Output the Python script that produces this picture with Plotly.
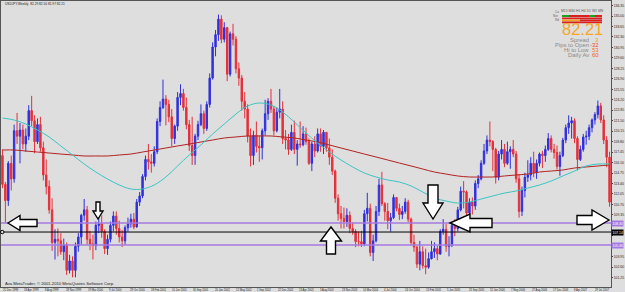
import plotly.graph_objects as go

# ---------------- data (USDJPY, half-month bars) ----------------
first_open = 117.0
closes = [113.3,
    111.2, 116.0, 114.0, 120.2, 119.5, 120.3, 118.5, 119.5, 122.8, 121.5, 118.8, 121.0, 118.0, 114.5, 113.0, 110.0, 105.8, 106.2, 106.0, 104.6, 105.5, 102.2, 103.4, 102.2,
    105.3, 106.5, 109.3, 110.0, 106.2, 105.6, 105.4, 108.0, 108.2, 107.2, 105.0, 106.2, 108.0, 109.2, 107.6, 106.5, 106.0, 107.7, 108.2, 108.8, 107.8, 111.0, 111.8, 114.3,
    116.5, 116.2, 116.0, 117.5, 121.4, 123.2, 124.3, 123.6, 122.0, 119.2, 120.8, 124.5, 125.0, 123.2, 121.0, 118.3, 117.0, 119.5, 121.0, 122.4, 120.5, 123.6, 127.0, 131.0,
    132.6, 134.6, 132.0, 133.5, 127.5, 132.7, 132.0, 128.2, 127.0, 124.0, 123.0, 119.5, 117.0, 119.6, 118.2, 118.0, 120.2, 122.4, 124.0, 123.0, 120.2, 122.6, 123.0, 119.2,
    119.0, 117.8, 120.0, 117.8, 118.5, 118.4, 119.8, 118.8, 116.0, 118.5, 117.6, 119.8, 118.2, 120.0, 118.0, 116.8, 115.0, 111.5, 109.5, 108.9, 108.5, 109.3, 107.6, 107.2,
    105.9, 105.9, 105.6, 109.5, 110.2, 104.5, 106.0, 109.8, 113.2, 110.8, 109.8, 108.6, 109.0, 111.6, 110.2, 109.4, 109.8, 111.0, 108.8, 105.8, 105.2, 103.0, 104.6, 102.8,
    102.6, 103.7, 104.6, 105.0, 104.3, 107.2, 107.5, 105.3, 105.5, 108.0, 107.6, 110.0, 112.4, 112.3, 109.6, 111.0, 110.5, 113.4, 114.0, 116.0, 117.6, 119.0, 118.8, 117.8,
    114.2, 117.2, 117.8, 116.0, 117.5, 117.8, 117.2, 114.0, 109.8, 112.5, 114.2, 114.5, 116.0, 114.8, 116.0, 117.2, 117.0, 117.8, 119.2, 117.8, 117.4, 115.6, 117.0, 119.0,
    120.6, 121.2, 121.5, 119.2, 116.5, 117.8, 119.4, 119.5, 120.6, 121.6, 122.3, 123.4, 121.6, 119.0, 116.8, 111.0]
highs = [117.8,
    113.6, 116.3, 117.0, 121.0, 122.5, 121.2, 121.0, 120.5, 123.5, 124.7, 122.2, 121.8, 122.0, 118.8, 116.5, 113.8, 111.5, 107.5, 107.6, 107.0, 106.3, 105.8, 104.2, 104.0,
    105.8, 107.0, 109.5, 111.4, 110.5, 107.3, 106.8, 108.5, 110.0, 109.3, 107.5, 106.8, 108.5, 109.8, 109.8, 108.6, 107.4, 108.0, 109.0, 109.5, 109.6, 111.4, 112.3, 114.6,
    117.0, 118.5, 117.2, 118.2, 121.8, 124.0, 126.8, 124.8, 124.2, 123.0, 121.0, 125.2, 126.2, 125.6, 124.5, 121.6, 122.0, 119.8, 121.5, 123.6, 122.8, 124.0, 127.6, 131.6,
    133.2, 135.2, 135.1, 134.2, 133.6, 133.0, 134.0, 132.4, 129.0, 127.4, 125.2, 123.6, 120.5, 120.2, 121.4, 119.6, 120.5, 124.2, 124.4, 125.6, 123.4, 123.2, 125.6, 124.0,
    120.3, 119.8, 121.0, 121.5, 119.0, 121.4, 120.8, 120.6, 119.2, 118.8, 119.5, 120.5, 120.5, 120.3, 120.0, 119.2, 117.8, 115.2, 112.0, 110.5, 110.3, 110.2, 109.8, 108.4,
    107.5, 107.2, 107.3, 110.0, 112.2, 110.8, 106.8, 110.5, 114.0, 114.9, 111.0, 110.9, 109.6, 112.0, 111.6, 110.8, 110.5, 111.5, 111.3, 109.0, 106.8, 105.3, 106.0, 105.3,
    105.0, 104.5, 106.0, 105.8, 105.4, 107.5, 108.8, 108.2, 106.6, 108.3, 108.8, 110.4, 113.0, 113.7, 112.5, 111.5, 111.6, 113.8, 114.5, 116.4, 118.5, 119.6, 121.4, 119.0,
    118.0, 117.6, 119.0, 118.5, 118.8, 118.2, 119.0, 117.6, 114.6, 113.0, 114.8, 116.4, 116.8, 117.5, 116.5, 117.4, 117.6, 118.3, 119.9, 119.6, 118.5, 118.3, 117.5, 119.3,
    121.0, 122.2, 122.0, 121.8, 119.5, 118.3, 119.8, 120.2, 121.0, 121.8, 122.6, 124.1, 123.8, 122.2, 119.5, 117.5]
lows = [112.8,
    108.3, 110.5, 112.5, 113.5, 118.5, 116.0, 117.8, 117.5, 119.0, 120.8, 117.3, 118.5, 117.5, 113.8, 112.0, 109.5, 104.7, 103.6, 104.0, 104.2, 103.5, 101.6, 101.8, 101.3,
    101.3, 104.6, 105.5, 108.6, 105.5, 104.8, 103.6, 104.8, 107.0, 106.4, 104.3, 104.2, 105.8, 107.2, 106.8, 105.8, 105.2, 105.5, 107.2, 107.7, 107.5, 107.7, 110.5, 111.5,
    113.8, 115.2, 114.8, 115.6, 117.2, 120.8, 123.0, 120.9, 121.3, 118.2, 118.5, 120.2, 123.5, 122.8, 120.4, 117.6, 115.8, 115.8, 119.0, 120.8, 119.8, 120.2, 123.2, 126.8,
    129.8, 131.8, 131.5, 131.6, 126.6, 127.2, 131.2, 127.6, 126.0, 122.8, 121.8, 118.7, 115.6, 115.8, 117.4, 116.2, 116.5, 119.6, 121.6, 122.5, 119.6, 120.0, 121.8, 118.5,
    117.8, 117.1, 117.6, 117.2, 115.7, 118.0, 118.2, 118.4, 115.8, 115.0, 116.8, 117.4, 117.5, 117.2, 117.5, 115.8, 114.5, 110.9, 108.6, 107.6, 107.6, 107.8, 107.0, 106.8,
    105.2, 105.3, 105.2, 105.3, 108.5, 104.0, 103.4, 105.8, 109.2, 110.5, 108.6, 107.5, 107.2, 108.8, 109.8, 108.7, 108.8, 109.5, 108.4, 105.5, 104.6, 102.5, 102.2, 102.4,
    101.7, 102.4, 103.6, 103.8, 103.5, 104.2, 106.8, 104.6, 104.0, 105.2, 106.6, 107.2, 109.8, 110.2, 109.0, 108.8, 109.4, 110.0, 112.8, 113.8, 115.8, 117.2, 118.2, 115.0,
    113.4, 113.8, 116.5, 115.5, 115.8, 115.3, 116.8, 113.5, 109.0, 109.2, 111.6, 113.6, 113.8, 114.2, 114.0, 115.6, 115.4, 116.2, 117.6, 117.4, 116.6, 115.2, 114.4, 116.8,
    118.6, 119.8, 119.2, 118.6, 115.1, 116.3, 117.5, 118.4, 119.0, 120.0, 121.0, 121.8, 121.2, 118.5, 115.5, 110.4]
opens = [first_open] + closes[:-1]   # FX bars open where the previous one closed

ma_step = 4   # moving averages read every 4th bar
teal_ma = [121.85, 121.59, 121.07, 120.30, 119.40, 118.24, 117.08, 115.91, 114.88, 113.98, 113.21, 112.69, 112.69,
           113.21, 114.24, 115.66, 117.08, 118.37, 119.78, 121.07, 122.36, 123.40, 123.78, 123.53, 122.62, 121.33,
           119.91, 118.62, 117.46, 116.43, 115.53, 114.75, 114.24, 113.85, 113.59, 113.08, 112.30, 111.53, 111.14,
           110.88, 111.01, 111.40, 111.79, 112.17, 112.43, 112.82, 113.21, 113.72, 114.37, 115.01, 115.66, 115.91, 115.91]
maroon_ma = [117.72, 117.72, 117.59, 117.46, 117.33, 117.20, 117.08, 116.95, 116.95, 116.95, 117.08, 117.20, 117.46,
             117.72, 117.98, 118.24, 118.49, 118.75, 119.01, 119.27, 119.40, 119.53, 119.53, 119.53, 119.40, 119.27,
             119.01, 118.75, 118.37, 117.98, 117.59, 117.20, 116.82, 116.43, 116.04, 115.66, 115.27, 114.88, 114.62,
             114.37, 114.24, 114.24, 114.24, 114.37, 114.50, 114.62, 114.88, 115.01, 115.14, 115.40, 115.53, 115.66, 115.79]

date_labels = ["21 Dec 1998", "18 Apr 1999", "8 Aug 1999", "28 Nov 1999", "19 Mar 2000", "9 Jul 2000",
               "29 Oct 2000", "18 Feb 2001", "10 Jun 2001", "30 Sep 2001", "20 Jan 2002", "12 May 2002",
               "1 Sep 2002", "22 Dec 2002", "13 Apr 2003", "3 Aug 2003", "23 Nov 2003", "14 Mar 2004",
               "4 Jul 2004", "24 Oct 2004", "13 Feb 2005", "5 Jun 2005", "25 Sep 2005", "15 Jan 2006",
               "7 May 2006", "27 Aug 2006", "17 Dec 2006", "8 Apr 2007", "29 Jul 2007"]
y_ticks = [136.35, 135.00, 133.65, 132.30, 130.95, 129.60, 128.25, 126.90, 125.55, 124.20, 122.85, 121.50,
           120.15, 118.80, 117.45, 116.10, 114.75, 113.40, 112.05, 110.70, 109.35, 108.00, 106.65, 105.30,
           103.95, 102.60, 101.25]
level_upper = 108.30
level_mid = 107.14
level_lower = 105.46

title_text = "USDJPY,Weekly  82.29 82.50 81.97 82.21"
copyright_text = "Ava MetaTrader, \u00a9 2001-2010 MetaQuotes Software Corp."
tf_text = "M15 M30 H1 H4 D1 W1 MN"
big_price = "82.21"
info_labels = ["Spread", "Pips to Open", "Hi to Low", "Daily Av"]
info_values = ["3", "-32", "53", "60"]

# ---------------- layout geometry ----------------
W, H = 625, 292
ML, MR, MT, MB = 1, 14, 1, 5
PW, PH = W - ML - MR, H - MT - MB
N = len(closes)
Y_RANGE = [100.05, 136.94]
BG = "#dedede"
FONT = "Liberation Sans, Arial, sans-serif"
levels = [level_upper, level_mid, level_lower]


def px(x):
    return (x - ML) / PW


def py(y):
    return 1 - (y - MT) / PH


fig = go.Figure()
fig.add_trace(go.Candlestick(
    x=list(range(N)), open=opens, high=highs, low=lows, close=closes,
    increasing=dict(line=dict(color="#3030dc", width=1), fillcolor="#3030dc"),
    decreasing=dict(line=dict(color="#e4303a", width=1), fillcolor="#e4303a"),
    whiskerwidth=0, showlegend=False, hoverinfo="skip"))
ma_x = list(range(0, N, ma_step))
fig.add_trace(go.Scatter(x=ma_x, y=maroon_ma, mode="lines", line=dict(color="#b22222", width=1, shape="spline"),
                         showlegend=False, hoverinfo="skip"))
fig.add_trace(go.Scatter(x=ma_x, y=teal_ma, mode="lines", line=dict(color="#3cc4c4", width=1, shape="spline"),
                         showlegend=False, hoverinfo="skip"))

shapes = []
for lv, col, w in [(level_upper, "#a47ae0", 1.6), (level_lower, "#a47ae0", 1.6), (level_mid, "#000000", 1)]:
    shapes.append(dict(type="line", xref="paper", yref="y", x0=0, x1=1, y0=lv, y1=lv,
                       line=dict(color=col, width=w), layer="above"))


def harrow(tip_x, tip_y, tail_x, head_len, head_half, shaft_half):
    d = 1 if tail_x > tip_x else -1
    hb = tip_x + d * head_len
    return [(tip_x, tip_y), (hb, tip_y - head_half), (hb, tip_y - shaft_half), (tail_x, tip_y - shaft_half),
            (tail_x, tip_y + shaft_half), (hb, tip_y + shaft_half), (hb, tip_y + head_half)]


def varrow(tip_x, tip_y, tail_y, head_len, head_half, shaft_half):
    d = 1 if tail_y > tip_y else -1
    hb = tip_y + d * head_len
    return [(tip_x, tip_y), (tip_x - head_half, hb), (tip_x - shaft_half, hb), (tip_x - shaft_half, tail_y),
            (tip_x + shaft_half, tail_y), (tip_x + shaft_half, hb), (tip_x + head_half, hb)]


arrows = [harrow(8, 223, 37, 12, 7.5, 3.5),
          varrow(98, 219, 202, 8, 5, 2),
          varrow(331, 227, 254, 14, 10.5, 4.5),
          varrow(433, 219, 185, 16, 10, 5),
          harrow(450, 223, 492, 20, 9, 4.5),
          harrow(609, 220, 577, 17, 10, 4.5)]
for pts in arrows:
    path = "M " + " L ".join(f"{px(x):.5f},{py(y):.5f}" for x, y in pts) + " Z"
    shapes.append(dict(type="path", xref="paper", yref="paper", path=path,
                       fillcolor="white", line=dict(color="black", width=1.4), layer="above"))

# small marker at the left end of the black line
shapes.append(dict(type="circle", xref="paper", yref="y", x0=px(0.5), x1=px(4), y0=level_mid - 0.22,
                   y1=level_mid + 0.22, line=dict(color="black", width=1), fillcolor=BG, layer="above"))

# info panel colour bars
panel = [(562, 569, 15, 17, "#22a022"), (569, 589, 15, 17, "#d82020"), (589, 595, 15, 17, "#22a022"),
         (595, 602, 15, 17, "#d82020"), (562, 602, 17.5, 19.3, "#d82020"), (562, 580, 19.5, 21.3, "#f0a020"),
         (580, 602, 19.5, 21.3, "#d82020"), (562, 602, 21.5, 23.3, "#d82020")]
for x0, x1, y0, y1, c in panel:
    shapes.append(dict(type="rect", xref="paper", yref="paper", x0=px(x0), x1=px(x1), y0=py(y1), y1=py(y0),
                       fillcolor=c, line=dict(width=0), layer="above"))

ann = []
ann.append(dict(text=title_text, xref="paper", yref="paper", x=px(3), y=py(4.5), xanchor="left", yanchor="middle",
                showarrow=False, font=dict(size=3.2, color="#222", family=FONT)))
ann.append(dict(text=copyright_text, xref="paper", yref="paper", x=px(3), y=py(283.5), xanchor="left",
                yanchor="middle", showarrow=False, font=dict(size=4.2, color="#222", family=FONT)))
for k, lab in enumerate(date_labels):
    ann.append(dict(text=lab, xref="paper", yref="paper", x=px(1 + 21.16 * k), y=py(289.5), xanchor="left",
                    yanchor="middle", showarrow=False, font=dict(size=2.7, color="#222", family=FONT)))
ann.append(dict(text=tf_text, xref="paper", yref="paper", x=px(582), y=py(11.5), xanchor="center",
                yanchor="middle", showarrow=False, font=dict(size=3.4, color="#555", family=FONT)))
for j, t in enumerate(["Ca", "Nor", "Rd"]):
    ann.append(dict(text=t, xref="paper", yref="paper", x=px(561), y=py(12 + 4 * j), xanchor="right",
                    yanchor="middle", showarrow=False, font=dict(size=3.2, color="#666", family=FONT)))
ann.append(dict(text=big_price, xref="paper", yref="paper", x=px(582), y=py(28.8), xanchor="center",
                yanchor="middle", showarrow=False, font=dict(size=16.5, color="#f5a623", family=FONT)))
val_colors = ["#f0a030", "#e8501e", "#f07a1e", "#ee5a1e"]
for j, (lab, val) in enumerate(zip(info_labels, info_values)):
    yy = py(39.6 + 5.3 * j)
    ann.append(dict(text=lab, xref="paper", yref="paper", x=px(591), y=yy, xanchor="right", yanchor="middle",
                    showarrow=False, font=dict(size=5.9, color="#8a8a8a", family=FONT)))
    ann.append(dict(text=val, xref="paper", yref="paper", x=px(601), y=yy, xanchor="right", yanchor="middle",
                    showarrow=False, font=dict(size=5.9, color=val_colors[j], family=FONT)))
for lv, bg in [(level_upper, "#a47ae0"), (level_mid, "#000000"), (level_lower, "#a47ae0")]:
    ann.append(dict(text=f"{lv:.2f}", xref="paper", yref="y", x=1.0, y=lv, xanchor="left", yanchor="middle",
                    showarrow=False, bgcolor=bg, borderpad=0.5, font=dict(size=3.4, color="white", family=FONT)))

# tick labels that sit under the level boxes are hidden by them in the picture
y_ticktext = ["" if any(abs(v - lv) < 0.75 for lv in levels) else f"{v:.2f}" for v in y_ticks]

fig.update_layout(
    width=W, height=H, margin=dict(l=ML, r=MR, t=MT, b=MB, pad=0), template="none",
    paper_bgcolor=BG, plot_bgcolor=BG, showlegend=False, shapes=shapes, annotations=ann,
    xaxis=dict(range=[-0.5, N - 0.5], showgrid=False, zeroline=False, showticklabels=False, ticks="",
               rangeslider=dict(visible=False), showline=True, mirror=True, linecolor="#555", linewidth=1,
               automargin=False),
    yaxis=dict(range=Y_RANGE, side="right", showgrid=False, zeroline=False, tickvals=y_ticks,
               ticktext=y_ticktext, ticks="outside", ticklen=1, tickcolor="#444",
               tickfont=dict(size=3.4, color="#222", family=FONT), showline=True, mirror=True,
               linecolor="#555", linewidth=1, automargin=False),
)
fig.write_html("out.html")
